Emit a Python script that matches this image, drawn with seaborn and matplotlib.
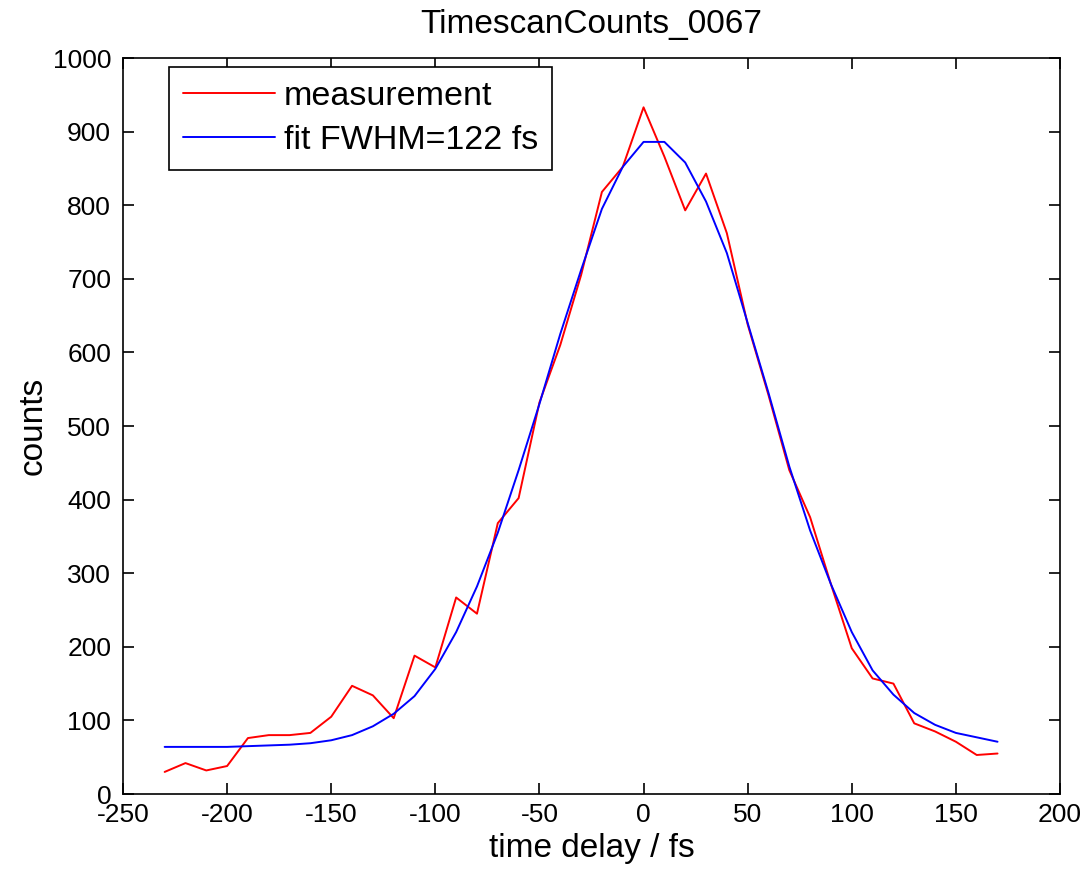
import numpy as np
import pandas as pd
import matplotlib
matplotlib.use("Agg")
import matplotlib.pyplot as plt
import seaborn as sns

# ---- data ----
time_delay = [-230, -220, -210, -200, -190, -180, -170, -160, -150, -140,
              -130, -120, -110, -100, -90, -80, -70, -60, -50, -40,
              -30, -20, -10, 0, 10, 20, 30, 40, 50, 60,
              70, 80, 90, 100, 110, 120, 130, 140, 150, 160, 170]
measurement = [30, 42, 32, 38, 76, 80, 80, 83, 105, 147,
               134, 103, 188, 172, 267, 245, 368, 402, 532, 610,
               705, 818, 852, 933, 866, 793, 843, 762, 638, 542,
               440, 376, 285, 198, 157, 150, 96, 85, 71, 53, 55]
fit = [64, 64, 64, 64, 65, 66, 67, 69, 73, 80,
       92, 109, 133, 170, 220, 282, 355, 440, 530, 625,
       712, 795, 852, 886, 886, 858, 805, 735, 640, 545,
       445, 358, 285, 220, 168, 135, 110, 94, 83, 77, 71]
series_names = ["measurement", "fit FWHM=122 fs"]
title = "TimescanCounts_0067"
x_label = "time delay / fs"
y_label = "counts"
x_ticks = [-250, -200, -150, -100, -50, 0, 50, 100, 150, 200]
y_ticks = [0, 100, 200, 300, 400, 500, 600, 700, 800, 900, 1000]

df = pd.DataFrame({
    "t": time_delay * 2,
    "v": measurement + fit,
    "series": [series_names[0]] * len(time_delay) + [series_names[1]] * len(time_delay),
})

sns.set_style("ticks")
plt.rcParams["font.family"] = ["Liberation Sans", "DejaVu Sans"]
plt.rcParams["axes.unicode_minus"] = False
plt.rcParams["text.color"] = "black"
plt.rcParams["axes.labelcolor"] = "black"
plt.rcParams["xtick.color"] = "black"
plt.rcParams["ytick.color"] = "black"

W, H = 1088, 881
fig = plt.figure(figsize=(W / 100, H / 100), dpi=100)
fig.patch.set_facecolor("white")
ax = fig.add_axes([123 / W, 1 - 794 / H, (1060 - 123) / W, (794 - 58) / H])

sns.lineplot(data=df, x="t", y="v", hue="series", hue_order=series_names,
             palette={series_names[0]: "#ff0000", series_names[1]: "#0000ff"},
             linewidth=1.4, ax=ax, sort=False, estimator=None)

ax.set_xlim(-250, 200)
ax.set_ylim(0, 1000)
ax.set_xticks(x_ticks)
ax.set_yticks(y_ticks)
ax.tick_params(direction="in", length=8, width=1.2, top=True, right=True,
               labelsize=19, colors="black")
ax.tick_params(axis="y", pad=8.5)
ax.tick_params(axis="x", pad=6.5)
for s in ax.spines.values():
    s.set_visible(True)
    s.set_color("black")
    s.set_linewidth(1.2)

ax.set_title(title, fontsize=24, pad=18, color="black")
ax.set_xlabel(x_label, fontsize=24, labelpad=4, color="black")
ax.set_ylabel(y_label, fontsize=24, labelpad=3, color="black")

leg = ax.legend(loc="upper left", bbox_to_anchor=(0.049, 0.988), borderaxespad=0,
                fancybox=False, edgecolor="black", framealpha=1, fontsize=24.5,
                handlelength=2.7, handletextpad=0.25, borderpad=0.42, labelspacing=0.38)
leg.get_frame().set_linewidth(1.2)
for txt in leg.get_texts():
    txt.set_color("black")

fig.savefig("out.png", dpi=100, facecolor="white")
